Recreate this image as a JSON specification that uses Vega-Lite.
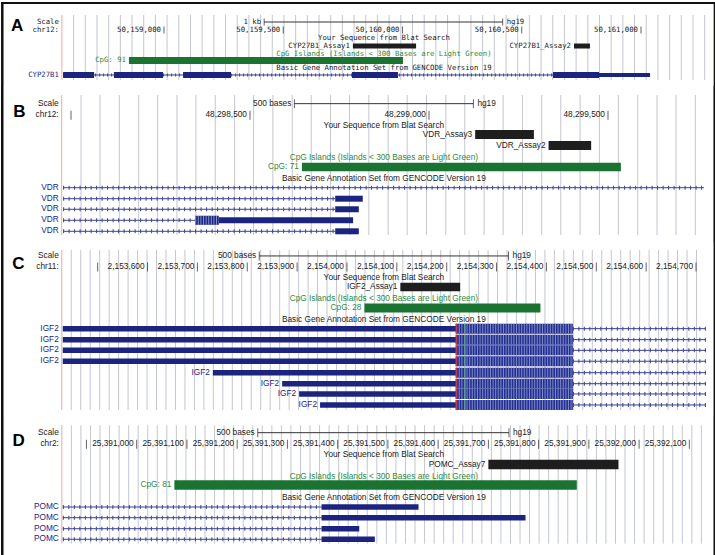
{
"$schema": "https://vega.github.io/schema/vega-lite/v6.json",
"padding": 0,
"spacing": 0,
"bounds": "flush",
"config": {"view": {"stroke": null}, "concat": {"spacing": 0}},
"datasets": {
"gA": [{"g":50158621,"l":1.78,"l2":10.68},{"g":50158670,"l":1.78,"l2":10.68},{"g":50158719,"l":1.78,"l2":10.68},{"g":50158768,"l":1.78,"l2":10.68},{"g":50158817,"l":1.78,"l2":10.68},{"g":50158866,"l":1.78,"l2":10.68},{"g":50158915,"l":1.78,"l2":10.68},{"g":50158964,"l":1.78,"l2":10.68},{"g":50159013,"l":1.78,"l2":10.68},{"g":50159062,"l":1.78,"l2":10.68},{"g":50159111,"l":1.78,"l2":10.68},{"g":50159160,"l":1.78,"l2":10.68},{"g":50159209,"l":1.78,"l2":10.68},{"g":50159258,"l":1.78,"l2":10.68},{"g":50159307,"l":1.78,"l2":10.68},{"g":50159356,"l":1.78,"l2":10.68},{"g":50159405,"l":1.78,"l2":10.68},{"g":50159454,"l":1.78,"l2":10.68},{"g":50159503,"l":1.78,"l2":10.68},{"g":50159552,"l":1.78,"l2":10.68},{"g":50159601,"l":1.78,"l2":10.68},{"g":50159650,"l":1.78,"l2":10.68},{"g":50159699,"l":1.78,"l2":10.68},{"g":50159748,"l":1.78,"l2":10.68},{"g":50159797,"l":1.78,"l2":10.68},{"g":50159846,"l":1.78,"l2":10.68},{"g":50159895,"l":1.78,"l2":10.68},{"g":50159944,"l":1.78,"l2":10.68},{"g":50159993,"l":1.78,"l2":10.68},{"g":50160042,"l":1.78,"l2":10.68},{"g":50160091,"l":1.78,"l2":10.68},{"g":50160140,"l":1.78,"l2":10.68},{"g":50160189,"l":1.78,"l2":10.68},{"g":50160238,"l":1.78,"l2":10.68},{"g":50160287,"l":1.78,"l2":10.68},{"g":50160336,"l":1.78,"l2":10.68},{"g":50160385,"l":1.78,"l2":10.68},{"g":50160434,"l":1.78,"l2":10.68},{"g":50160483,"l":1.78,"l2":10.68},{"g":50160532,"l":1.78,"l2":10.68},{"g":50160581,"l":1.78,"l2":10.68},{"g":50160630,"l":1.78,"l2":10.68},{"g":50160679,"l":1.78,"l2":10.68},{"g":50160728,"l":1.78,"l2":10.68},{"g":50160777,"l":1.78,"l2":10.68},{"g":50160826,"l":1.78,"l2":10.68},{"g":50160875,"l":1.78,"l2":10.68},{"g":50160924,"l":1.78,"l2":10.68},{"g":50160973,"l":1.78,"l2":10.68},{"g":50161022,"l":1.78,"l2":10.68},{"g":50161071,"l":1.78,"l2":10.68},{"g":50161120,"l":1.78,"l2":10.68},{"g":50161169,"l":1.78,"l2":10.68},{"g":50161218,"l":1.78,"l2":10.68},{"g":50161267,"l":1.78,"l2":10.68}],
"gB": [{"g":48298028,"l":0.83,"l2":13.67},{"g":48298081,"l":0.83,"l2":13.67},{"g":48298135,"l":0.83,"l2":13.67},{"g":48298189,"l":0.83,"l2":13.67},{"g":48298242,"l":0.83,"l2":13.67},{"g":48298296,"l":0.83,"l2":13.67},{"g":48298349,"l":0.83,"l2":13.67},{"g":48298403,"l":0.83,"l2":13.67},{"g":48298457,"l":0.83,"l2":13.67},{"g":48298510,"l":0.83,"l2":13.67},{"g":48298564,"l":0.83,"l2":13.67},{"g":48298618,"l":0.83,"l2":13.67},{"g":48298671,"l":0.83,"l2":13.67},{"g":48298725,"l":0.83,"l2":13.67},{"g":48298778,"l":0.83,"l2":13.67},{"g":48298832,"l":0.83,"l2":13.67},{"g":48298886,"l":0.83,"l2":13.67},{"g":48298939,"l":0.83,"l2":13.67},{"g":48298993,"l":0.83,"l2":13.67},{"g":48299047,"l":0.83,"l2":13.67},{"g":48299100,"l":0.83,"l2":13.67},{"g":48299154,"l":0.83,"l2":13.67},{"g":48299207,"l":0.83,"l2":13.67},{"g":48299261,"l":0.83,"l2":13.67},{"g":48299315,"l":0.83,"l2":13.67},{"g":48299368,"l":0.83,"l2":13.67},{"g":48299422,"l":0.83,"l2":13.67},{"g":48299476,"l":0.83,"l2":13.67},{"g":48299529,"l":0.83,"l2":13.67},{"g":48299583,"l":0.83,"l2":13.67},{"g":48299637,"l":0.83,"l2":13.67},{"g":48299690,"l":0.83,"l2":13.67},{"g":48299744,"l":0.83,"l2":13.67}],
"gC": [{"g":2153447,"l":0.73,"l2":15.41},{"g":2153466,"l":0.73,"l2":15.41},{"g":2153485,"l":0.73,"l2":15.41},{"g":2153504,"l":0.73,"l2":15.41},{"g":2153523,"l":0.73,"l2":15.41},{"g":2153542,"l":0.73,"l2":15.41},{"g":2153561,"l":0.73,"l2":15.41},{"g":2153580,"l":0.73,"l2":15.41},{"g":2153599,"l":0.73,"l2":15.41},{"g":2153618,"l":0.73,"l2":15.41},{"g":2153637,"l":0.73,"l2":15.41},{"g":2153656,"l":0.73,"l2":15.41},{"g":2153675,"l":0.73,"l2":15.41},{"g":2153694,"l":0.73,"l2":15.41},{"g":2153713,"l":0.73,"l2":15.41},{"g":2153732,"l":0.73,"l2":15.41},{"g":2153751,"l":0.73,"l2":15.41},{"g":2153770,"l":0.73,"l2":15.41},{"g":2153789,"l":0.73,"l2":15.41},{"g":2153808,"l":0.73,"l2":15.41},{"g":2153827,"l":0.73,"l2":15.41},{"g":2153846,"l":0.73,"l2":15.41},{"g":2153865,"l":0.73,"l2":15.41},{"g":2153884,"l":0.73,"l2":15.41},{"g":2153903,"l":0.73,"l2":15.41},{"g":2153922,"l":0.73,"l2":15.41},{"g":2153941,"l":0.73,"l2":15.41},{"g":2153960,"l":0.73,"l2":15.41},{"g":2153979,"l":0.73,"l2":15.41},{"g":2153998,"l":0.73,"l2":15.41},{"g":2154017,"l":0.73,"l2":15.41},{"g":2154036,"l":0.73,"l2":15.41},{"g":2154055,"l":0.73,"l2":15.41},{"g":2154074,"l":0.73,"l2":15.41},{"g":2154093,"l":0.73,"l2":15.41},{"g":2154112,"l":0.73,"l2":15.41},{"g":2154131,"l":0.73,"l2":15.41},{"g":2154150,"l":0.73,"l2":15.41},{"g":2154169,"l":0.73,"l2":15.41},{"g":2154188,"l":0.73,"l2":15.41},{"g":2154207,"l":0.73,"l2":15.41},{"g":2154226,"l":0.73,"l2":15.41},{"g":2154245,"l":0.73,"l2":15.41},{"g":2154264,"l":0.73,"l2":15.41},{"g":2154283,"l":0.73,"l2":15.41},{"g":2154302,"l":0.73,"l2":15.41},{"g":2154321,"l":0.73,"l2":15.41},{"g":2154340,"l":0.73,"l2":15.41},{"g":2154359,"l":0.73,"l2":15.41},{"g":2154378,"l":0.73,"l2":15.41},{"g":2154397,"l":0.73,"l2":15.41},{"g":2154416,"l":0.73,"l2":15.41},{"g":2154435,"l":0.73,"l2":15.41},{"g":2154454,"l":0.73,"l2":15.41},{"g":2154473,"l":0.73,"l2":15.41},{"g":2154492,"l":0.73,"l2":15.41},{"g":2154511,"l":0.73,"l2":15.41},{"g":2154530,"l":0.73,"l2":15.41},{"g":2154549,"l":0.73,"l2":15.41},{"g":2154568,"l":0.73,"l2":15.41},{"g":2154587,"l":0.73,"l2":15.41},{"g":2154606,"l":0.73,"l2":15.41},{"g":2154625,"l":0.73,"l2":15.41},{"g":2154644,"l":0.73,"l2":15.41},{"g":2154663,"l":0.73,"l2":15.41},{"g":2154682,"l":0.73,"l2":15.41},{"g":2154701,"l":0.73,"l2":15.41}],
"gD": [{"g":25390870,"l":0.85,"l2":11.71},{"g":25390889,"l":0.85,"l2":11.71},{"g":25390908,"l":0.85,"l2":11.71},{"g":25390927,"l":0.85,"l2":11.71},{"g":25390946,"l":0.85,"l2":11.71},{"g":25390965,"l":0.85,"l2":11.71},{"g":25390984,"l":0.85,"l2":11.71},{"g":25391003,"l":0.85,"l2":11.71},{"g":25391022,"l":0.85,"l2":11.71},{"g":25391041,"l":0.85,"l2":11.71},{"g":25391060,"l":0.85,"l2":11.71},{"g":25391079,"l":0.85,"l2":11.71},{"g":25391098,"l":0.85,"l2":11.71},{"g":25391117,"l":0.85,"l2":11.71},{"g":25391136,"l":0.85,"l2":11.71},{"g":25391155,"l":0.85,"l2":11.71},{"g":25391174,"l":0.85,"l2":11.71},{"g":25391193,"l":0.85,"l2":11.71},{"g":25391212,"l":0.85,"l2":11.71},{"g":25391231,"l":0.85,"l2":11.71},{"g":25391250,"l":0.85,"l2":11.71},{"g":25391269,"l":0.85,"l2":11.71},{"g":25391288,"l":0.85,"l2":11.71},{"g":25391307,"l":0.85,"l2":11.71},{"g":25391326,"l":0.85,"l2":11.71},{"g":25391345,"l":0.85,"l2":11.71},{"g":25391364,"l":0.85,"l2":11.71},{"g":25391383,"l":0.85,"l2":11.71},{"g":25391402,"l":0.85,"l2":11.71},{"g":25391421,"l":0.85,"l2":11.71},{"g":25391440,"l":0.85,"l2":11.71},{"g":25391459,"l":0.85,"l2":11.71},{"g":25391478,"l":0.85,"l2":11.71},{"g":25391497,"l":0.85,"l2":11.71},{"g":25391516,"l":0.85,"l2":11.71},{"g":25391535,"l":0.85,"l2":11.71},{"g":25391554,"l":0.85,"l2":11.71},{"g":25391573,"l":0.85,"l2":11.71},{"g":25391592,"l":0.85,"l2":11.71},{"g":25391611,"l":0.85,"l2":11.71},{"g":25391630,"l":0.85,"l2":11.71},{"g":25391649,"l":0.85,"l2":11.71},{"g":25391668,"l":0.85,"l2":11.71},{"g":25391687,"l":0.85,"l2":11.71},{"g":25391706,"l":0.85,"l2":11.71},{"g":25391725,"l":0.85,"l2":11.71},{"g":25391744,"l":0.85,"l2":11.71},{"g":25391763,"l":0.85,"l2":11.71},{"g":25391782,"l":0.85,"l2":11.71},{"g":25391801,"l":0.85,"l2":11.71},{"g":25391820,"l":0.85,"l2":11.71},{"g":25391839,"l":0.85,"l2":11.71},{"g":25391858,"l":0.85,"l2":11.71},{"g":25391877,"l":0.85,"l2":11.71},{"g":25391896,"l":0.85,"l2":11.71},{"g":25391915,"l":0.85,"l2":11.71},{"g":25391934,"l":0.85,"l2":11.71},{"g":25391953,"l":0.85,"l2":11.71},{"g":25391972,"l":0.85,"l2":11.71},{"g":25391991,"l":0.85,"l2":11.71},{"g":25392010,"l":0.85,"l2":11.71},{"g":25392029,"l":0.85,"l2":11.71},{"g":25392048,"l":0.85,"l2":11.71},{"g":25392067,"l":0.85,"l2":11.71},{"g":25392086,"l":0.85,"l2":11.71},{"g":25392105,"l":0.85,"l2":11.71},{"g":25392124,"l":0.85,"l2":11.71}],
"A": [
{"k":"let","s":50158384,"l":3.29,"t":"A"},
{"k":"vb","s":50158322,"l":0,"l2":11.507},
{"k":"vb","s":50161310,"l":0,"l2":11.507},
{"k":"hb","s":50158317,"e":50161314,"l":0.14},
{"k":"vl","s":50158572,"l":1.78,"l2":10.68},
{"k":"rt","s":50158572,"l":2.74,"t":"Scale","c":"k"},
{"k":"rt","s":50158572,"l":3.84,"t":"chr12:","c":"k"},
{"k":"bar","s":50159420,"e":50160420,"l":2.74},
{"k":"tick","s":50159420,"l":2.74},
{"k":"tick","s":50160420,"l":2.74},
{"k":"rt","s":50159420,"l":2.74,"t":"1 kb","c":"k"},
{"k":"lt","s":50160420,"l":2.74,"t":"hg19","c":"k"},
{"k":"tick","s":50159000,"l":3.84},{"k":"rt","s":50159000,"l":3.84,"t":"50,159,000","c":"k"},
{"k":"tick","s":50159500,"l":3.84},{"k":"rt","s":50159500,"l":3.84,"t":"50,159,500","c":"k"},
{"k":"tick","s":50160000,"l":3.84},{"k":"rt","s":50160000,"l":3.84,"t":"50,160,000","c":"k"},
{"k":"tick","s":50160500,"l":3.84},{"k":"rt","s":50160500,"l":3.84,"t":"50,160,500","c":"k"},
{"k":"tick","s":50161000,"l":3.84},{"k":"rt","s":50161000,"l":3.84,"t":"50,161,000","c":"k"},
{"k":"ct","s":50159922,"l":4.96,"t":"Your Sequence from Blat Search","c":"k"},
{"k":"blat","s":50159792,"e":50160057,"l":6.03},
{"k":"rt","s":50159792,"l":6.03,"t":"CYP27B1_Assay1","c":"k"},
{"k":"blat","s":50160719,"e":50160786,"l":6.03},
{"k":"rt","s":50160719,"l":6.03,"t":"CYP27B1_Assay2","c":"k"},
{"k":"ct","s":50159922,"l":7.1,"t":"CpG Islands (Islands < 300 Bases are Light Green)","c":"g"},
{"k":"cpg","s":50158853,"e":50160002,"l":8.01},
{"k":"rt","s":50158853,"l":8.01,"t":"CpG: 91","c":"g"},
{"k":"ct","s":50159922,"l":9.04,"t":"Basic Gene Annotation Set from GENCODE Version 19","c":"k"},
{"k":"in","s":50158577,"e":50161038,"l":10},
{"k":"ex","s":50158577,"e":50158707,"l":10},
{"k":"ex","s":50158790,"e":50158996,"l":10},
{"k":"ex","s":50159080,"e":50159281,"l":10},
{"k":"ex","s":50159788,"e":50159981,"l":10},
{"k":"ex","s":50160631,"e":50160824,"l":10},
{"k":"utr","s":50160824,"e":50161038,"l":10},
{"k":"rt","s":50158572,"l":10,"t":"CYP27B1","c":"n"}
],
"B": [
{"k":"let","s":48297856,"l":2.34,"t":"B"},
{"k":"vb","s":48297808,"l":0,"l2":14.312},
{"k":"vb","s":48299798,"l":0,"l2":14.312},
{"k":"vl","s":48297974,"l":0.83,"l2":13.67},
{"k":"rt","s":48297974,"l":1.62,"t":"Scale","c":"k"},
{"k":"rt","s":48297974,"l":2.69,"t":"chr12:","c":"k"},
{"k":"bar","s":48298624,"e":48299124,"l":1.62},
{"k":"tick","s":48298624,"l":1.62},
{"k":"tick","s":48299124,"l":1.62},
{"k":"rt","s":48298624,"l":1.62,"t":"500 bases","c":"k"},
{"k":"lt","s":48299124,"l":1.62,"t":"hg19","c":"k"},
{"k":"tick","s":48298000,"l":2.69},
{"k":"tick","s":48298500,"l":2.69},{"k":"rt","s":48298500,"l":2.69,"t":"48,298,500","c":"k"},
{"k":"tick","s":48299000,"l":2.69},{"k":"rt","s":48299000,"l":2.69,"t":"48,299,000","c":"k"},
{"k":"tick","s":48299500,"l":2.69},{"k":"rt","s":48299500,"l":2.69,"t":"48,299,500","c":"k"},
{"k":"ct","s":48298874,"l":3.67,"t":"Your Sequence from Blat Search","c":"k"},
{"k":"blat","s":48299129,"e":48299293,"l":4.45},
{"k":"rt","s":48299129,"l":4.45,"t":"VDR_Assay3","c":"k"},
{"k":"blat","s":48299334,"e":48299453,"l":5.46},
{"k":"rt","s":48299334,"l":5.46,"t":"VDR_Assay2","c":"k"},
{"k":"ct","s":48298874,"l":6.58,"t":"CpG Islands (Islands < 300 Bases are Light Green)","c":"g"},
{"k":"cpg","s":48298645,"e":48299536,"l":7.43},
{"k":"rt","s":48298645,"l":7.43,"t":"CpG: 71","c":"g"},
{"k":"ct","s":48298874,"l":8.5,"t":"Basic Gene Annotation Set from GENCODE Version 19","c":"k"},
{"k":"in","s":48297978,"e":48299768,"l":9.33},
{"k":"rt","s":48297974,"l":9.33,"t":"VDR","c":"n"},
{"k":"in","s":48297978,"e":48298738,"l":10.34},
{"k":"utr","s":48298738,"e":48298815,"l":10.34},
{"k":"rt","s":48297974,"l":10.34,"t":"VDR","c":"n"},
{"k":"in","s":48297978,"e":48298738,"l":11.31},
{"k":"utr","s":48298738,"e":48298804,"l":11.31},
{"k":"rt","s":48297974,"l":11.31,"t":"VDR","c":"n"},
{"k":"in","s":48297978,"e":48298347,"l":12.32},
{"k":"cds","s":48298347,"e":48298413,"l":12.32},
{"k":"utr","s":48298413,"e":48298788,"l":12.32},
{"k":"rt","s":48297974,"l":12.32,"t":"VDR","c":"n"},
{"k":"in","s":48297978,"e":48298738,"l":13.33},
{"k":"utr","s":48298738,"e":48298804,"l":13.33},
{"k":"rt","s":48297974,"l":13.33,"t":"VDR","c":"n"}
],
"C": [
{"k":"let","s":2153341,"l":2.06,"t":"C"},
{"k":"vb","s":2153308.6,"l":0,"l2":15.963},
{"k":"vb","s":2154737.7,"l":0,"l2":15.963},
{"k":"vl","s":2153428,"l":0.73,"l2":15.41},
{"k":"rt","s":2153428,"l":1.28,"t":"Scale","c":"k"},
{"k":"rt","s":2153428,"l":2.29,"t":"chr11:","c":"k"},
{"k":"bar","s":2153824,"e":2154324,"l":1.28},
{"k":"tick","s":2153824,"l":1.28},
{"k":"tick","s":2154324,"l":1.28},
{"k":"rt","s":2153824,"l":1.28,"t":"500 bases","c":"k"},
{"k":"lt","s":2154324,"l":1.28,"t":"hg19","c":"k"},
{"k":"tick","s":2153500,"l":2.29},
{"k":"tick","s":2153600,"l":2.29},{"k":"rt","s":2153600,"l":2.29,"t":"2,153,600","c":"k"},
{"k":"tick","s":2153700,"l":2.29},{"k":"rt","s":2153700,"l":2.29,"t":"2,153,700","c":"k"},
{"k":"tick","s":2153800,"l":2.29},{"k":"rt","s":2153800,"l":2.29,"t":"2,153,800","c":"k"},
{"k":"tick","s":2153900,"l":2.29},{"k":"rt","s":2153900,"l":2.29,"t":"2,153,900","c":"k"},
{"k":"tick","s":2154000,"l":2.29},{"k":"rt","s":2154000,"l":2.29,"t":"2,154,000","c":"k"},
{"k":"tick","s":2154100,"l":2.29},{"k":"rt","s":2154100,"l":2.29,"t":"2,154,100","c":"k"},
{"k":"tick","s":2154200,"l":2.29},{"k":"rt","s":2154200,"l":2.29,"t":"2,154,200","c":"k"},
{"k":"tick","s":2154300,"l":2.29},{"k":"rt","s":2154300,"l":2.29,"t":"2,154,300","c":"k"},
{"k":"tick","s":2154400,"l":2.29},{"k":"rt","s":2154400,"l":2.29,"t":"2,154,400","c":"k"},
{"k":"tick","s":2154500,"l":2.29},{"k":"rt","s":2154500,"l":2.29,"t":"2,154,500","c":"k"},
{"k":"tick","s":2154600,"l":2.29},{"k":"rt","s":2154600,"l":2.29,"t":"2,154,600","c":"k"},
{"k":"tick","s":2154700,"l":2.29},{"k":"rt","s":2154700,"l":2.29,"t":"2,154,700","c":"k"},
{"k":"ct","s":2154074,"l":3.3,"t":"Your Sequence from Blat Search","c":"k"},
{"k":"blat","s":2154107,"e":2154227,"l":4.13},
{"k":"rt","s":2154107,"l":4.16,"t":"IGF2_Assay1","c":"k"},
{"k":"ct","s":2154074,"l":5.2,"t":"CpG Islands (Islands < 300 Bases are Light Green)","c":"g"},
{"k":"cpg","s":2154035,"e":2154388,"l":6.06},
{"k":"rt","s":2154035,"l":6.06,"t":"CpG: 28","c":"g"},
{"k":"ct","s":2154074,"l":7.18,"t":"Basic Gene Annotation Set from GENCODE Version 19","c":"k"},
{"k":"utr","s":2153430,"e":2154219,"l":7.95},{"k":"cds","s":2154219,"e":2154453,"l":7.95},{"k":"in","s":2154453,"e":2154720,"l":7.95},{"k":"red","s":2154219,"l":7.95},{"k":"grn","s":2154237,"l":7.95},{"k":"rt","s":2153428,"l":7.95,"t":"IGF2","c":"n"},
{"k":"utr","s":2153430,"e":2154219,"l":8.96},{"k":"cds","s":2154219,"e":2154453,"l":8.96},{"k":"in","s":2154453,"e":2154720,"l":8.96},{"k":"red","s":2154219,"l":8.96},{"k":"grn","s":2154237,"l":8.96},{"k":"rt","s":2153428,"l":8.96,"t":"IGF2","c":"n"},
{"k":"utr","s":2153430,"e":2154219,"l":9.94},{"k":"cds","s":2154219,"e":2154453,"l":9.94},{"k":"in","s":2154453,"e":2154720,"l":9.94},{"k":"red","s":2154219,"l":9.94},{"k":"grn","s":2154237,"l":9.94},{"k":"rt","s":2153428,"l":9.94,"t":"IGF2","c":"n"},
{"k":"utr","s":2153430,"e":2154219,"l":10.94},{"k":"cds","s":2154219,"e":2154453,"l":10.94},{"k":"in","s":2154453,"e":2154720,"l":10.94},{"k":"red","s":2154219,"l":10.94},{"k":"grn","s":2154237,"l":10.94},{"k":"rt","s":2153428,"l":10.94,"t":"IGF2","c":"n"},
{"k":"utr","s":2153731,"e":2154219,"l":11.99},{"k":"cds","s":2154219,"e":2154453,"l":11.99},{"k":"in","s":2154453,"e":2154720,"l":11.99},{"k":"red","s":2154219,"l":11.99},{"k":"grn","s":2154237,"l":11.99},{"k":"rt","s":2153731,"l":11.99,"t":"IGF2","c":"n"},
{"k":"utr","s":2153870,"e":2154219,"l":13.0},{"k":"cds","s":2154219,"e":2154453,"l":13.0},{"k":"in","s":2154453,"e":2154720,"l":13.0},{"k":"red","s":2154219,"l":13.0},{"k":"grn","s":2154237,"l":13.0},{"k":"rt","s":2153870,"l":13.0,"t":"IGF2","c":"n"},
{"k":"utr","s":2153904,"e":2154219,"l":13.94},{"k":"cds","s":2154219,"e":2154453,"l":13.94},{"k":"in","s":2154453,"e":2154720,"l":13.94},{"k":"red","s":2154219,"l":13.94},{"k":"grn","s":2154237,"l":13.94},{"k":"rt","s":2153904,"l":13.94,"t":"IGF2","c":"n"},
{"k":"utr","s":2153946,"e":2154219,"l":14.95},{"k":"cds","s":2154219,"e":2154453,"l":14.95},{"k":"in","s":2154453,"e":2154720,"l":14.95},{"k":"red","s":2154219,"l":14.95},{"k":"grn","s":2154237,"l":14.95},{"k":"rt","s":2153946,"l":14.95,"t":"IGF2","c":"n"}
],
"D": [
{"k":"let","s":25390765,"l":2.29,"t":"D"},
{"k":"vb","s":25390732.4,"l":0,"l2":12.936},
{"k":"vb","s":25392150.6,"l":0,"l2":12.936},
{"k":"hb","s":25390730,"e":25392153,"l":12.84},
{"k":"vl","s":25390851,"l":0.85,"l2":11.71},
{"k":"rt","s":25390851,"l":1.53,"t":"Scale","c":"k"},
{"k":"rt","s":25390851,"l":2.6,"t":"chr2:","c":"k"},
{"k":"bar","s":25391241,"e":25391741,"l":1.53},
{"k":"tick","s":25391241,"l":1.53},
{"k":"tick","s":25391741,"l":1.53},
{"k":"rt","s":25391241,"l":1.53,"t":"500 bases","c":"k"},
{"k":"lt","s":25391741,"l":1.53,"t":"hg19","c":"k"},
{"k":"tick","s":25390900,"l":2.6},
{"k":"tick","s":25391000,"l":2.6},{"k":"rt","s":25391000,"l":2.6,"t":"25,391,000","c":"k"},
{"k":"tick","s":25391100,"l":2.6},{"k":"rt","s":25391100,"l":2.6,"t":"25,391,100","c":"k"},
{"k":"tick","s":25391200,"l":2.6},{"k":"rt","s":25391200,"l":2.6,"t":"25,391,200","c":"k"},
{"k":"tick","s":25391300,"l":2.6},{"k":"rt","s":25391300,"l":2.6,"t":"25,391,300","c":"k"},
{"k":"tick","s":25391400,"l":2.6},{"k":"rt","s":25391400,"l":2.6,"t":"25,391,400","c":"k"},
{"k":"tick","s":25391500,"l":2.6},{"k":"rt","s":25391500,"l":2.6,"t":"25,391,500","c":"k"},
{"k":"tick","s":25391600,"l":2.6},{"k":"rt","s":25391600,"l":2.6,"t":"25,391,600","c":"k"},
{"k":"tick","s":25391700,"l":2.6},{"k":"rt","s":25391700,"l":2.6,"t":"25,391,700","c":"k"},
{"k":"tick","s":25391800,"l":2.6},{"k":"rt","s":25391800,"l":2.6,"t":"25,391,800","c":"k"},
{"k":"tick","s":25391900,"l":2.6},{"k":"rt","s":25391900,"l":2.6,"t":"25,391,900","c":"k"},
{"k":"tick","s":25392000,"l":2.6},{"k":"rt","s":25392000,"l":2.6,"t":"25,392,000","c":"k"},
{"k":"tick","s":25392100,"l":2.6},{"k":"rt","s":25392100,"l":2.6,"t":"25,392,100","c":"k"},
{"k":"ct","s":25391492,"l":3.61,"t":"Your Sequence from Blat Search","c":"k"},
{"k":"blat","s":25391700,"e":25391959,"l":4.45},
{"k":"rt","s":25391700,"l":4.45,"t":"POMC_Assay7","c":"k"},
{"k":"ct","s":25391492,"l":5.6,"t":"CpG Islands (Islands < 300 Bases are Light Green)","c":"g"},
{"k":"cpg","s":25391075,"e":25391876,"l":6.33},
{"k":"rt","s":25391075,"l":6.33,"t":"CpG: 81","c":"g"},
{"k":"ct","s":25391492,"l":7.5,"t":"Basic Gene Annotation Set from GENCODE Version 19","c":"k"},
{"k":"in","s":25390853,"e":25391368,"l":8.35},{"k":"utr","s":25391368,"e":25391561,"l":8.35},{"k":"rt","s":25390851,"l":8.35,"t":"POMC","c":"n"},
{"k":"in","s":25390853,"e":25391368,"l":9.33},{"k":"utr","s":25391368,"e":25391774,"l":9.33},{"k":"rt","s":25390851,"l":9.33,"t":"POMC","c":"n"},
{"k":"in","s":25390853,"e":25391368,"l":10.34},{"k":"utr","s":25391368,"e":25391443,"l":10.34},{"k":"rt","s":25390851,"l":10.34,"t":"POMC","c":"n"},
{"k":"in","s":25390853,"e":25391368,"l":11.31},{"k":"utr","s":25391368,"e":25391474,"l":11.31},{"k":"rt","s":25390851,"l":11.31,"t":"POMC","c":"n"}
]
},
"vconcat": [
{
"width": 715, "height": 84,
"data": {"name": "A"},
"encoding": {
"x": {"field": "s", "type": "quantitative", "scale": {"domain": [50158316.6, 50161314.5], "nice": false, "zero": false}, "axis": null},
"y": {"field": "l", "type": "quantitative", "scale": {"domain": [0, 11.507], "reverse": true, "nice": false, "zero": false}, "axis": null}
},
"layer": [
{"data": {"name": "gA"}, "mark": {"type": "rule", "color": "#c4c6d2", "strokeWidth": 1}, "encoding": {"x": {"field": "g", "type": "quantitative", "axis": null}, "y2": {"field": "l2"}}},
{"transform": [{"filter": "datum.k == 'vl'"}], "mark": {"type": "rule", "color": "#f0a8a0", "strokeWidth": 1}, "encoding": {"y2": {"field": "l2"}}},
{"transform": [{"filter": "datum.k == 'vb'"}], "mark": {"type": "rule", "color": "#111111", "strokeWidth": 2.5}, "encoding": {"y2": {"field": "l2"}}},
{"transform": [{"filter": "datum.k == 'hb'"}], "mark": {"type": "rule", "color": "#111111", "strokeWidth": 2}, "encoding": {"x2": {"field": "e"}}},
{"transform": [{"filter": "datum.k == 'bar'"}], "mark": {"type": "rule", "color": "#333333", "strokeWidth": 1}, "encoding": {"x2": {"field": "e"}}},
{"transform": [{"filter": "datum.k == 'tick'"}], "mark": {"type": "tick", "orient": "vertical", "color": "#222222", "size": 7, "thickness": 1}},
{"transform": [{"filter": "datum.k == 'blat'"}], "mark": {"type": "rule", "color": "#1e1e1e", "strokeWidth": 5}, "encoding": {"x2": {"field": "e"}}},
{"transform": [{"filter": "datum.k == 'cpg'"}], "mark": {"type": "rule", "color": "#1b7331", "strokeWidth": 7}, "encoding": {"x2": {"field": "e"}}},
{"transform": [{"filter": "datum.k == 'in'"}], "mark": {"type": "rule", "color": "#3a4090", "strokeWidth": 1}, "encoding": {"x2": {"field": "e"}}},
{"transform": [{"filter": "datum.k == 'in'"}], "mark": {"type": "rule", "color": "#3a4090", "strokeWidth": 3, "strokeDash": [1, 3]}, "encoding": {"x2": {"field": "e"}}},
{"transform": [{"filter": "datum.k == 'utr'"}], "mark": {"type": "rule", "color": "#1b2580", "strokeWidth": 4}, "encoding": {"x2": {"field": "e"}}},
{"transform": [{"filter": "datum.k == 'ex'"}], "mark": {"type": "rule", "color": "#1b2580", "strokeWidth": 6}, "encoding": {"x2": {"field": "e"}}},
{"transform": [{"filter": "datum.k == 'rt'"}], "mark": {"type": "text", "align": "right", "baseline": "middle", "dx": -3, "font": "DejaVu Sans Mono", "fontSize": 7.3}, "encoding": {"text": {"field": "t"}, "color": {"field": "c", "type": "nominal", "scale": {"domain": ["k", "g", "n"], "range": ["#1a1a1a", "#2f8a3f", "#1b2580"]}, "legend": null}}},
{"transform": [{"filter": "datum.k == 'ct'"}], "mark": {"type": "text", "align": "center", "baseline": "middle", "font": "DejaVu Sans Mono", "fontSize": 7.3}, "encoding": {"text": {"field": "t"}, "color": {"field": "c", "type": "nominal", "scale": {"domain": ["k", "g", "n"], "range": ["#1a1a1a", "#2f8a3f", "#1b2580"]}, "legend": null}}},
{"transform": [{"filter": "datum.k == 'lt'"}], "mark": {"type": "text", "align": "left", "baseline": "middle", "dx": 4, "font": "DejaVu Sans Mono", "fontSize": 7.3}, "encoding": {"text": {"field": "t"}, "color": {"field": "c", "type": "nominal", "scale": {"domain": ["k", "g", "n"], "range": ["#1a1a1a", "#2f8a3f", "#1b2580"]}, "legend": null}}},
{"transform": [{"filter": "datum.k == 'let'"}], "mark": {"type": "text", "align": "center", "baseline": "middle", "font": "Liberation Sans", "fontWeight": "bold", "fontSize": 17, "color": "#000000"}, "encoding": {"text": {"field": "t"}}}
]
},
{
"width": 715, "height": 156,
"data": {"name": "B"},
"encoding": {
"x": {"field": "s", "type": "quantitative", "scale": {"domain": [48297804.5, 48299801.7], "nice": false, "zero": false}, "axis": null},
"y": {"field": "l", "type": "quantitative", "scale": {"domain": [0, 14.312], "reverse": true, "nice": false, "zero": false}, "axis": null}
},
"layer": [
{"data": {"name": "gB"}, "mark": {"type": "rule", "color": "#c4c6d2", "strokeWidth": 1}, "encoding": {"x": {"field": "g", "type": "quantitative", "axis": null}, "y2": {"field": "l2"}}},
{"transform": [{"filter": "datum.k == 'vl'"}], "mark": {"type": "rule", "color": "#f0a8a0", "strokeWidth": 1}, "encoding": {"y2": {"field": "l2"}}},
{"transform": [{"filter": "datum.k == 'vb'"}], "mark": {"type": "rule", "color": "#111111", "strokeWidth": 2.5}, "encoding": {"y2": {"field": "l2"}}},
{"transform": [{"filter": "datum.k == 'bar'"}], "mark": {"type": "rule", "color": "#333333", "strokeWidth": 1}, "encoding": {"x2": {"field": "e"}}},
{"transform": [{"filter": "datum.k == 'tick'"}], "mark": {"type": "tick", "orient": "vertical", "color": "#222222", "size": 9, "thickness": 1}},
{"transform": [{"filter": "datum.k == 'blat'"}], "mark": {"type": "rule", "color": "#1e1e1e", "strokeWidth": 9}, "encoding": {"x2": {"field": "e"}}},
{"transform": [{"filter": "datum.k == 'cpg'"}], "mark": {"type": "rule", "color": "#1b7331", "strokeWidth": 8.5}, "encoding": {"x2": {"field": "e"}}},
{"transform": [{"filter": "datum.k == 'in'"}], "mark": {"type": "rule", "color": "#3a4090", "strokeWidth": 1}, "encoding": {"x2": {"field": "e"}}},
{"transform": [{"filter": "datum.k == 'in'"}], "mark": {"type": "rule", "color": "#3a4090", "strokeWidth": 4, "strokeDash": [1, 4.5]}, "encoding": {"x2": {"field": "e"}}},
{"transform": [{"filter": "datum.k == 'utr'"}], "mark": {"type": "rule", "color": "#1b2580", "strokeWidth": 6}, "encoding": {"x2": {"field": "e"}}},
{"transform": [{"filter": "datum.k == 'cds'"}], "mark": {"type": "rule", "color": "#1b2580", "strokeWidth": 9}, "encoding": {"x2": {"field": "e"}}},
{"transform": [{"filter": "datum.k == 'cds'"}], "mark": {"type": "rule", "color": "#8490d0", "strokeWidth": 9, "strokeDash": [1, 1.6]}, "encoding": {"x2": {"field": "e"}}},
{"transform": [{"filter": "datum.k == 'rt'"}], "mark": {"type": "text", "align": "right", "baseline": "middle", "dx": -3, "font": "Liberation Sans", "fontSize": 8.3}, "encoding": {"text": {"field": "t"}, "color": {"field": "c", "type": "nominal", "scale": {"domain": ["k", "g", "n"], "range": ["#1a1a1a", "#2f8a3f", "#1b2580"]}, "legend": null}}},
{"transform": [{"filter": "datum.k == 'ct'"}], "mark": {"type": "text", "align": "center", "baseline": "middle", "font": "Liberation Sans", "fontSize": 8.3}, "encoding": {"text": {"field": "t"}, "color": {"field": "c", "type": "nominal", "scale": {"domain": ["k", "g", "n"], "range": ["#1a1a1a", "#2f8a3f", "#1b2580"]}, "legend": null}}},
{"transform": [{"filter": "datum.k == 'lt'"}], "mark": {"type": "text", "align": "left", "baseline": "middle", "dx": 4, "font": "Liberation Sans", "fontSize": 8.3}, "encoding": {"text": {"field": "t"}, "color": {"field": "c", "type": "nominal", "scale": {"domain": ["k", "g", "n"], "range": ["#1a1a1a", "#2f8a3f", "#1b2580"]}, "legend": null}}},
{"transform": [{"filter": "datum.k == 'let'"}], "mark": {"type": "text", "align": "center", "baseline": "middle", "font": "Liberation Sans", "fontWeight": "bold", "fontSize": 17, "color": "#000000"}, "encoding": {"text": {"field": "t"}}}
]
},
{
"width": 715, "height": 174,
"data": {"name": "C"},
"encoding": {
"x": {"field": "s", "type": "quantitative", "scale": {"domain": [2153306.1, 2154740.1], "nice": false, "zero": false}, "axis": null},
"y": {"field": "l", "type": "quantitative", "scale": {"domain": [0, 15.963], "reverse": true, "nice": false, "zero": false}, "axis": null}
},
"layer": [
{"data": {"name": "gC"}, "mark": {"type": "rule", "color": "#c4c6d2", "strokeWidth": 1}, "encoding": {"x": {"field": "g", "type": "quantitative", "axis": null}, "y2": {"field": "l2"}}},
{"transform": [{"filter": "datum.k == 'vl'"}], "mark": {"type": "rule", "color": "#f0a8a0", "strokeWidth": 1}, "encoding": {"y2": {"field": "l2"}}},
{"transform": [{"filter": "datum.k == 'vb'"}], "mark": {"type": "rule", "color": "#111111", "strokeWidth": 2.5}, "encoding": {"y2": {"field": "l2"}}},
{"transform": [{"filter": "datum.k == 'bar'"}], "mark": {"type": "rule", "color": "#333333", "strokeWidth": 1}, "encoding": {"x2": {"field": "e"}}},
{"transform": [{"filter": "datum.k == 'tick'"}], "mark": {"type": "tick", "orient": "vertical", "color": "#222222", "size": 9, "thickness": 1}},
{"transform": [{"filter": "datum.k == 'blat'"}], "mark": {"type": "rule", "color": "#1e1e1e", "strokeWidth": 8.7}, "encoding": {"x2": {"field": "e"}}},
{"transform": [{"filter": "datum.k == 'cpg'"}], "mark": {"type": "rule", "color": "#1b7331", "strokeWidth": 9}, "encoding": {"x2": {"field": "e"}}},
{"transform": [{"filter": "datum.k == 'in'"}], "mark": {"type": "rule", "color": "#3a4090", "strokeWidth": 1}, "encoding": {"x2": {"field": "e"}}},
{"transform": [{"filter": "datum.k == 'in'"}], "mark": {"type": "rule", "color": "#3a4090", "strokeWidth": 4, "strokeDash": [1, 4.5]}, "encoding": {"x2": {"field": "e"}}},
{"transform": [{"filter": "datum.k == 'utr'"}], "mark": {"type": "rule", "color": "#1b2580", "strokeWidth": 5.5}, "encoding": {"x2": {"field": "e"}}},
{"transform": [{"filter": "datum.k == 'cds'"}], "mark": {"type": "rule", "color": "#25308e", "strokeWidth": 10}, "encoding": {"x2": {"field": "e"}}},
{"transform": [{"filter": "datum.k == 'cds'"}], "mark": {"type": "rule", "color": "#7c88cc", "strokeWidth": 10, "strokeDash": [1, 1.6]}, "encoding": {"x2": {"field": "e"}}},
{"transform": [{"filter": "datum.k == 'red'"}], "mark": {"type": "tick", "orient": "vertical", "color": "#e0201e", "size": 10, "thickness": 2}},
{"transform": [{"filter": "datum.k == 'grn'"}], "mark": {"type": "tick", "orient": "vertical", "color": "#3fb060", "size": 10, "thickness": 1.5}},
{"transform": [{"filter": "datum.k == 'rt'"}], "mark": {"type": "text", "align": "right", "baseline": "middle", "dx": -3, "font": "Liberation Sans", "fontSize": 8.3}, "encoding": {"text": {"field": "t"}, "color": {"field": "c", "type": "nominal", "scale": {"domain": ["k", "g", "n"], "range": ["#1a1a1a", "#2f8a3f", "#1b2580"]}, "legend": null}}},
{"transform": [{"filter": "datum.k == 'ct'"}], "mark": {"type": "text", "align": "center", "baseline": "middle", "font": "Liberation Sans", "fontSize": 8.3}, "encoding": {"text": {"field": "t"}, "color": {"field": "c", "type": "nominal", "scale": {"domain": ["k", "g", "n"], "range": ["#1a1a1a", "#2f8a3f", "#1b2580"]}, "legend": null}}},
{"transform": [{"filter": "datum.k == 'lt'"}], "mark": {"type": "text", "align": "left", "baseline": "middle", "dx": 4, "font": "Liberation Sans", "fontSize": 8.3}, "encoding": {"text": {"field": "t"}, "color": {"field": "c", "type": "nominal", "scale": {"domain": ["k", "g", "n"], "range": ["#1a1a1a", "#2f8a3f", "#1b2580"]}, "legend": null}}},
{"transform": [{"filter": "datum.k == 'let'"}], "mark": {"type": "text", "align": "center", "baseline": "middle", "font": "Liberation Sans", "fontWeight": "bold", "fontSize": 17, "color": "#000000"}, "encoding": {"text": {"field": "t"}}}
]
},
{
"width": 715, "height": 141,
"data": {"name": "D"},
"encoding": {
"x": {"field": "s", "type": "quantitative", "scale": {"domain": [25390729.9, 25392153.1], "nice": false, "zero": false}, "axis": null},
"y": {"field": "l", "type": "quantitative", "scale": {"domain": [0, 12.936], "reverse": true, "nice": false, "zero": false}, "axis": null}
},
"layer": [
{"data": {"name": "gD"}, "mark": {"type": "rule", "color": "#c4c6d2", "strokeWidth": 1}, "encoding": {"x": {"field": "g", "type": "quantitative", "axis": null}, "y2": {"field": "l2"}}},
{"transform": [{"filter": "datum.k == 'vl'"}], "mark": {"type": "rule", "color": "#f0a8a0", "strokeWidth": 1}, "encoding": {"y2": {"field": "l2"}}},
{"transform": [{"filter": "datum.k == 'vb'"}], "mark": {"type": "rule", "color": "#111111", "strokeWidth": 2.5}, "encoding": {"y2": {"field": "l2"}}},
{"transform": [{"filter": "datum.k == 'hb'"}], "mark": {"type": "rule", "color": "#111111", "strokeWidth": 2}, "encoding": {"x2": {"field": "e"}}},
{"transform": [{"filter": "datum.k == 'bar'"}], "mark": {"type": "rule", "color": "#333333", "strokeWidth": 1}, "encoding": {"x2": {"field": "e"}}},
{"transform": [{"filter": "datum.k == 'tick'"}], "mark": {"type": "tick", "orient": "vertical", "color": "#222222", "size": 9, "thickness": 1}},
{"transform": [{"filter": "datum.k == 'blat'"}], "mark": {"type": "rule", "color": "#1e1e1e", "strokeWidth": 9.5}, "encoding": {"x2": {"field": "e"}}},
{"transform": [{"filter": "datum.k == 'cpg'"}], "mark": {"type": "rule", "color": "#1b7331", "strokeWidth": 9.5}, "encoding": {"x2": {"field": "e"}}},
{"transform": [{"filter": "datum.k == 'in'"}], "mark": {"type": "rule", "color": "#3a4090", "strokeWidth": 1}, "encoding": {"x2": {"field": "e"}}},
{"transform": [{"filter": "datum.k == 'in'"}], "mark": {"type": "rule", "color": "#3a4090", "strokeWidth": 4, "strokeDash": [1, 4.5]}, "encoding": {"x2": {"field": "e"}}},
{"transform": [{"filter": "datum.k == 'utr'"}], "mark": {"type": "rule", "color": "#1b2580", "strokeWidth": 5.5}, "encoding": {"x2": {"field": "e"}}},
{"transform": [{"filter": "datum.k == 'rt'"}], "mark": {"type": "text", "align": "right", "baseline": "middle", "dx": -3, "font": "Liberation Sans", "fontSize": 8.3}, "encoding": {"text": {"field": "t"}, "color": {"field": "c", "type": "nominal", "scale": {"domain": ["k", "g", "n"], "range": ["#1a1a1a", "#2f8a3f", "#1b2580"]}, "legend": null}}},
{"transform": [{"filter": "datum.k == 'ct'"}], "mark": {"type": "text", "align": "center", "baseline": "middle", "font": "Liberation Sans", "fontSize": 8.3}, "encoding": {"text": {"field": "t"}, "color": {"field": "c", "type": "nominal", "scale": {"domain": ["k", "g", "n"], "range": ["#1a1a1a", "#2f8a3f", "#1b2580"]}, "legend": null}}},
{"transform": [{"filter": "datum.k == 'lt'"}], "mark": {"type": "text", "align": "left", "baseline": "middle", "dx": 4, "font": "Liberation Sans", "fontSize": 8.3}, "encoding": {"text": {"field": "t"}, "color": {"field": "c", "type": "nominal", "scale": {"domain": ["k", "g", "n"], "range": ["#1a1a1a", "#2f8a3f", "#1b2580"]}, "legend": null}}},
{"transform": [{"filter": "datum.k == 'let'"}], "mark": {"type": "text", "align": "center", "baseline": "middle", "font": "Liberation Sans", "fontWeight": "bold", "fontSize": 17, "color": "#000000"}, "encoding": {"text": {"field": "t"}}}
]
}
]
}
